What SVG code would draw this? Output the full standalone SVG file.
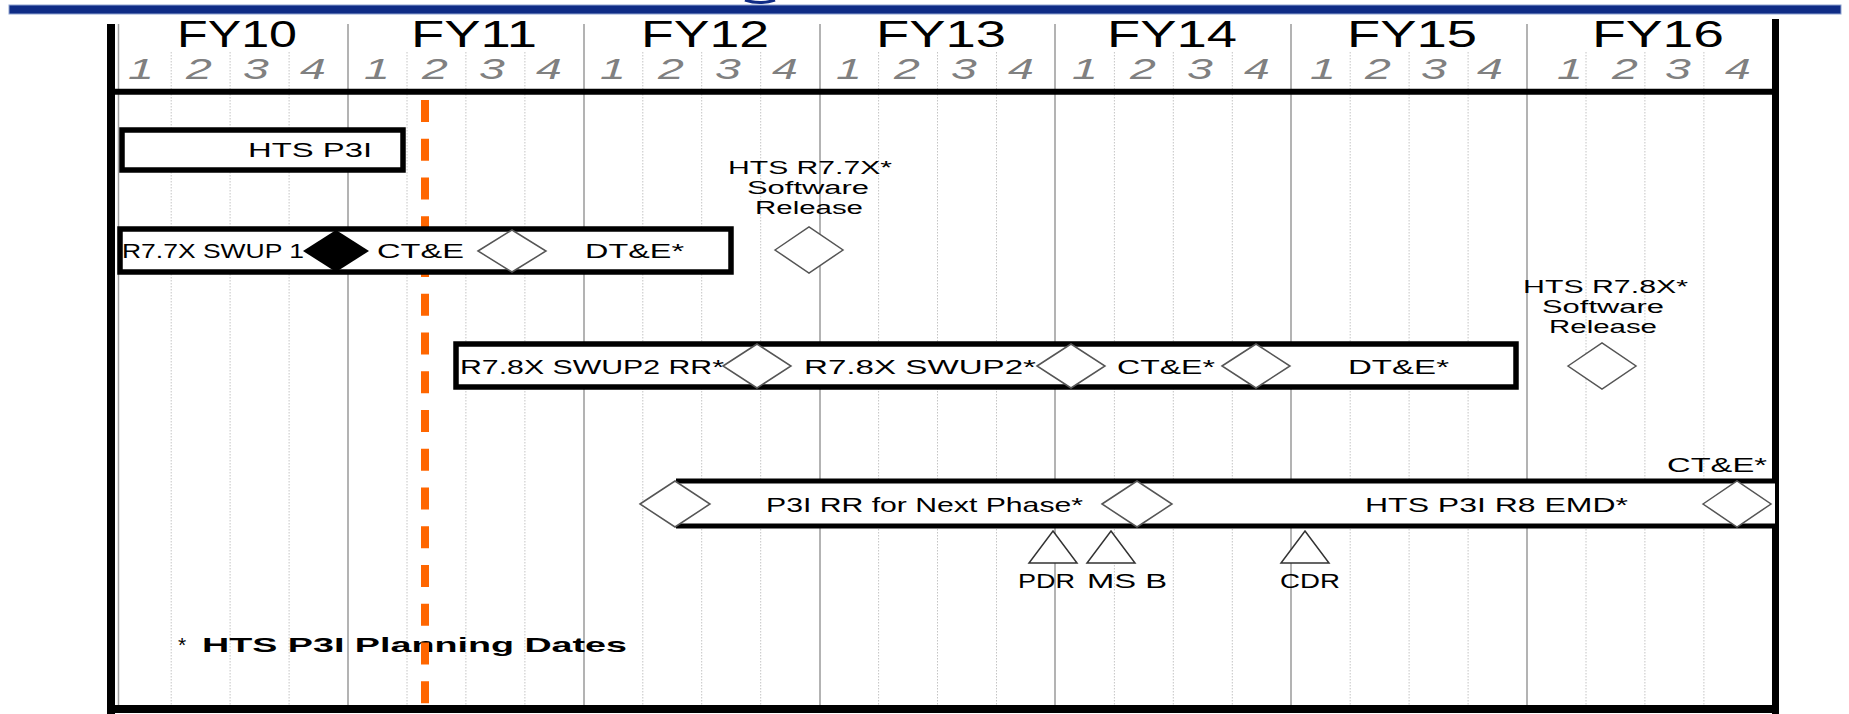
<svg xmlns="http://www.w3.org/2000/svg" width="1849" height="714" viewBox="0 0 1849 714">
<defs>
<style>
.t{font-family:"Liberation Sans",Arial,sans-serif;font-size:21px;fill:#000}
.lbl{font-family:"Liberation Sans",Arial,sans-serif;font-size:18px;fill:#000}
.fy{font-family:"Liberation Sans",Arial,sans-serif;font-size:36px;fill:#000}
.q{font-family:"Liberation Sans",Arial,sans-serif;font-size:29px;font-style:italic;fill:#808080;text-anchor:middle}
.yl{stroke:#9a9a9a;stroke-width:1.5}
.ql{stroke:#c4c4c4;stroke-width:1;stroke-dasharray:1.5 1.5}
.box{fill:#fff;stroke:#000;stroke-width:5.5}
.dia{fill:#fff;stroke:#555;stroke-width:1.5}
.tri{fill:#fff;stroke:#333;stroke-width:1.5}
.frame{stroke:#000;fill:none}
</style>
</defs>
<rect x="0" y="0" width="1849" height="714" fill="#fff"/>
<path d="M745,0 Q760,5 775,0" fill="none" stroke="#0f2c86" stroke-width="3"/>
<rect x="9" y="5" width="1832" height="9" fill="#0f2c86" stroke="#8ea2d0" stroke-width="1"/>

<g id="grid">
<g class="ql">
<line x1="171.2" y1="52" x2="171.2" y2="705"/><line x1="230.1" y1="52" x2="230.1" y2="705"/><line x1="289.1" y1="52" x2="289.1" y2="705"/>
<line x1="407" y1="52" x2="407" y2="705"/><line x1="465.9" y1="52" x2="465.9" y2="705"/><line x1="524.9" y1="52" x2="524.9" y2="705"/>
<line x1="642.8" y1="52" x2="642.8" y2="705"/><line x1="701.7" y1="52" x2="701.7" y2="705"/><line x1="760.7" y1="52" x2="760.7" y2="705"/>
<line x1="878.6" y1="52" x2="878.6" y2="705"/><line x1="937.5" y1="52" x2="937.5" y2="705"/><line x1="996.5" y1="52" x2="996.5" y2="705"/>
<line x1="1114.4" y1="52" x2="1114.4" y2="705"/><line x1="1173.3" y1="52" x2="1173.3" y2="705"/><line x1="1232.3" y1="52" x2="1232.3" y2="705"/>
<line x1="1350.2" y1="52" x2="1350.2" y2="705"/><line x1="1409.1" y1="52" x2="1409.1" y2="705"/><line x1="1468.1" y1="52" x2="1468.1" y2="705"/>
<line x1="1586" y1="52" x2="1586" y2="705"/><line x1="1644.9" y1="52" x2="1644.9" y2="705"/><line x1="1703.9" y1="52" x2="1703.9" y2="705"/>
</g>
<g class="yl">
<line x1="348" y1="24" x2="348" y2="705"/><line x1="584" y1="24" x2="584" y2="705"/><line x1="820" y1="24" x2="820" y2="705"/>
<line x1="1055" y1="24" x2="1055" y2="705"/><line x1="1291" y1="24" x2="1291" y2="705"/><line x1="1527" y1="24" x2="1527" y2="705"/>
</g>
<line x1="118.5" y1="24" x2="118.5" y2="705" stroke="#a0a0a0" stroke-width="1.5"/>
</g>

<g id="header">
<text class="fy" x="177" y="47" textLength="120" lengthAdjust="spacingAndGlyphs">FY10</text>
<text class="fy" x="411" y="47" textLength="126" lengthAdjust="spacingAndGlyphs">FY11</text>
<text class="fy" x="641" y="47" textLength="128" lengthAdjust="spacingAndGlyphs">FY12</text>
<text class="fy" x="876" y="47" textLength="130" lengthAdjust="spacingAndGlyphs">FY13</text>
<text class="fy" x="1107" y="47" textLength="130" lengthAdjust="spacingAndGlyphs">FY14</text>
<text class="fy" x="1347" y="47" textLength="130" lengthAdjust="spacingAndGlyphs">FY15</text>
<text class="fy" x="1592" y="47" textLength="132" lengthAdjust="spacingAndGlyphs">FY16</text>
<g class="q">
<text transform="translate(141 79) scale(1.6 1)">1</text><text transform="translate(199 79) scale(1.6 1)">2</text><text transform="translate(256 79) scale(1.6 1)">3</text><text transform="translate(313 79) scale(1.6 1)">4</text>
<text transform="translate(377 79) scale(1.6 1)">1</text><text transform="translate(435 79) scale(1.6 1)">2</text><text transform="translate(492 79) scale(1.6 1)">3</text><text transform="translate(549 79) scale(1.6 1)">4</text>
<text transform="translate(613 79) scale(1.6 1)">1</text><text transform="translate(671 79) scale(1.6 1)">2</text><text transform="translate(728 79) scale(1.6 1)">3</text><text transform="translate(785 79) scale(1.6 1)">4</text>
<text transform="translate(849 79) scale(1.6 1)">1</text><text transform="translate(907 79) scale(1.6 1)">2</text><text transform="translate(964 79) scale(1.6 1)">3</text><text transform="translate(1021 79) scale(1.6 1)">4</text>
<text transform="translate(1085 79) scale(1.6 1)">1</text><text transform="translate(1143 79) scale(1.6 1)">2</text><text transform="translate(1200 79) scale(1.6 1)">3</text><text transform="translate(1257 79) scale(1.6 1)">4</text>
<text transform="translate(1323 79) scale(1.6 1)">1</text><text transform="translate(1378 79) scale(1.6 1)">2</text><text transform="translate(1434 79) scale(1.6 1)">3</text><text transform="translate(1490 79) scale(1.6 1)">4</text>
<text transform="translate(1570 79) scale(1.6 1)">1</text><text transform="translate(1625 79) scale(1.6 1)">2</text><text transform="translate(1678 79) scale(1.6 1)">3</text><text transform="translate(1738 79) scale(1.6 1)">4</text>
</g>
</g>

<g id="legend">
<text class="t" x="178" y="652" font-size="24">*</text>
<text class="t" x="202" y="652" font-size="24" font-weight="bold" textLength="425" lengthAdjust="spacingAndGlyphs">HTS P3I Planning Dates</text>
</g>

<g id="connectors">
<line id="status-date" x1="425" y1="100" x2="425" y2="706" stroke="#ff6600" stroke-width="8" stroke-dasharray="22 16.75"/>
</g>

<g id="frame" class="frame">
<line x1="107" y1="91.7" x2="1779" y2="91.7" stroke-width="6"/>
<line x1="111" y1="24" x2="111" y2="714" stroke-width="8"/>
<line x1="1775.5" y1="19" x2="1775.5" y2="714" stroke-width="7"/>
<line x1="107" y1="709" x2="1779" y2="709" stroke-width="8"/>
</g>

<g id="hts-p3i">
<rect class="box" x="122" y="130" width="281" height="40"/>
<text class="t" x="248" y="157" font-size="23" textLength="124" lengthAdjust="spacingAndGlyphs">HTS P3I</text>
</g>

<g id="r77x-swup1">
<rect class="box" x="120" y="229" width="611" height="43"/>
<text class="t" x="122" y="258" textLength="182" lengthAdjust="spacingAndGlyphs">R7.7X SWUP 1</text>
<polygon points="303,251 336,230 369,251 336,272" fill="#000"/>
<text class="t" x="377" y="258" textLength="87" lengthAdjust="spacingAndGlyphs">CT&amp;E</text>
<polygon class="dia" points="478,251 512,230 546,251 512,272"/>
<text class="t" x="585" y="258" textLength="99" lengthAdjust="spacingAndGlyphs">DT&amp;E*</text>
</g>

<g id="r77x-release">
<text class="lbl"><tspan x="728" y="174" textLength="164" lengthAdjust="spacingAndGlyphs">HTS R7.7X*</tspan><tspan x="747" y="194" textLength="122" lengthAdjust="spacingAndGlyphs">Software</tspan><tspan x="755" y="214" textLength="108" lengthAdjust="spacingAndGlyphs">Release</tspan></text>
<polygon class="dia" points="775,250 809,227 843,250 809,273"/>
</g>

<g id="r78x-swup2">
<rect class="box" x="456" y="344" width="1060" height="43"/>
<text class="t" x="460" y="374" textLength="264" lengthAdjust="spacingAndGlyphs">R7.8X SWUP2 RR*</text>
<polygon class="dia" points="723,366 757,344 791,366 757,388"/>
<text class="t" x="804" y="374" textLength="232" lengthAdjust="spacingAndGlyphs">R7.8X SWUP2*</text>
<polygon class="dia" points="1037,366 1071,344 1105,366 1071,388"/>
<text class="t" x="1117" y="374" textLength="98" lengthAdjust="spacingAndGlyphs">CT&amp;E*</text>
<polygon class="dia" points="1222,366 1256,344 1290,366 1256,388"/>
<text class="t" x="1348" y="374" textLength="101" lengthAdjust="spacingAndGlyphs">DT&amp;E*</text>
</g>

<g id="r78x-release">
<text class="lbl"><tspan x="1523" y="293" textLength="165" lengthAdjust="spacingAndGlyphs">HTS R7.8X*</tspan><tspan x="1542" y="313" textLength="122" lengthAdjust="spacingAndGlyphs">Software</tspan><tspan x="1549" y="333" textLength="108" lengthAdjust="spacingAndGlyphs">Release</tspan></text>
<polygon class="dia" points="1568,366 1602,343 1636,366 1602,389"/>
</g>

<g id="p3i-r8">
<rect x="676" y="481" width="1099" height="45" fill="#fff"/>
<line x1="676" y1="481" x2="1775" y2="481" stroke="#000" stroke-width="5"/>
<line x1="676" y1="526" x2="1775" y2="526" stroke="#000" stroke-width="5"/>
<polygon class="dia" points="640,504 675,481 710,504 675,527"/>
<text class="t" x="766" y="512" font-size="20" textLength="317" lengthAdjust="spacingAndGlyphs">P3I RR for Next Phase*</text>
<polygon class="dia" points="1102,504 1137,481 1172,504 1137,527"/>
<text class="t" x="1365" y="512" font-size="20" textLength="263" lengthAdjust="spacingAndGlyphs">HTS P3I R8 EMD*</text>
<polygon class="dia" points="1703,504 1737,481 1771,504 1737,527"/>
<text class="t" x="1667" y="472" font-size="20" textLength="100" lengthAdjust="spacingAndGlyphs">CT&amp;E*</text>
</g>

<g id="pdr">
<polygon class="tri" points="1053,531 1077,563 1029,563"/>
<text class="t" x="1018" y="588" textLength="57" lengthAdjust="spacingAndGlyphs">PDR</text>
</g>
<g id="msb">
<polygon class="tri" points="1111,531 1135,563 1087,563"/>
<text class="t" x="1087" y="588" textLength="80" lengthAdjust="spacingAndGlyphs">MS B</text>
</g>
<g id="cdr">
<polygon class="tri" points="1305,531 1329,563 1281,563"/>
<text class="t" x="1280" y="588" textLength="60" lengthAdjust="spacingAndGlyphs">CDR</text>
</g>
</svg>
